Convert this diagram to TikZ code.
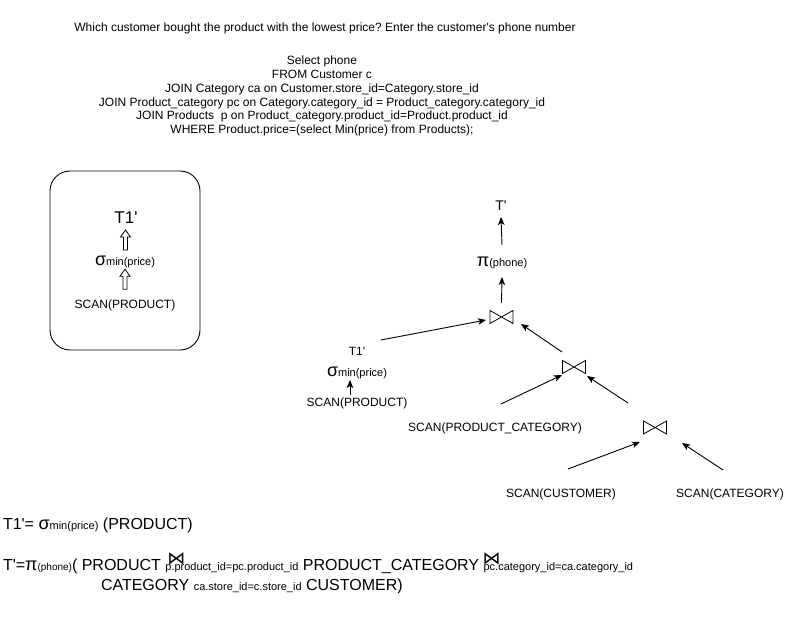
\documentclass[tikz,border=0pt]{standalone}
\usepackage{fontspec}
\setmainfont{Liberation Sans}[Ligatures=TeXOff]
\newfontfamily\dejavu{DejaVu Sans}
\usetikzlibrary{arrows.meta,calc}
\frenchspacing
\newcommand\mysig{{\fontsize{18}{18}\selectfont σ}}
\newcommand\mypi{{\fontsize{18}{18}\selectfont π}}
\newcommand\mysub[1]{{\fontsize{11}{13}\selectfont #1}}
\newcommand\mybow{{\dejavu\fontsize{18}{18}\selectfont ⋈}}
\begin{document}
\begin{tikzpicture}[x=1pt,y=-1pt,
  every node/.style={inner sep=0pt, outer sep=0pt},
  t12/.style={font=\fontsize{12}{14}\selectfont},
  arr/.style={line width=0.9pt, -{Stealth[length=8pt,width=6.5pt,inset=2pt]}},
  joinbox/.style={minimum width=23pt, minimum height=13pt},
  bow/.style={line width=0.8pt},
  pics/hup/.style={code={\draw[line width=0.8pt] (-2,10) -- (-2,-3) -- (-5,-3) -- (0,-10) -- (5,-3) -- (2,-3) -- (2,10) -- cycle;}}
]
\path[use as bounding box] (0,0) rectangle (802,639);

% header
\node[t12] (title) at (325,28) {Which customer bought the product with the lowest price? Enter the customer's phone number};
\node[align=center, font=\fontsize{12}{13.8}\selectfont] (sql) at (322,96) {Select phone\\
FROM Customer c\\
JOIN Category ca on Customer.store\_id=Category.store\_id\\
JOIN Product\_category pc on Category.category\_id = Product\_category.category\_id\\
JOIN Products~ p on Product\_category.product\_id=Product.product\_id\\
WHERE Product.price=(select Min(price) from Products);};

% rounded box
\node[draw, line width=0.9pt, rounded corners=20pt, minimum width=150pt, minimum height=179pt] (box) at (125,260.5) {};
\node[font=\fontsize{17}{20}\selectfont] (bT1) at (126,218) {T1'};
\node (bsig) at (125,262) {\mysig\mysub{min(price)}};
\node[t12] (bscan) at (125,305) {SCAN(PRODUCT)};
\pic at ($(bT1)!0.5!(bsig)$) {hup};
\pic at ($(bsig)!0.4!(bscan)$) {hup};

% tree
\node[font=\fontsize{14}{16}\selectfont] (Tp) at (501,206) {T'};
\node (pi) at (502,263) {\mypi\mysub{(phone)}};
\node[joinbox] (j1) at (501.5,317) {};
\node[t12] (t1b) at (357,351) {T1'};
\node (sigb) at (357,373) {\mysig\mysub{min(price)}};
\node[t12] (scanp) at (357,403) {SCAN(PRODUCT)};
\node[joinbox] (j2) at (574,367) {};
\node[t12] (scanpc) at (495,428) {SCAN(PRODUCT\_CATEGORY)};
\node[joinbox] (j3) at (655,427.5) {};
\node[t12] (scanc) at (561,494) {SCAN(CUSTOMER)};
\node[t12] (scancat) at (730,494) {SCAN(CATEGORY)};

\foreach \j in {j1,j2,j3}
  \draw[bow] (\j.north west) -- (\j.south east) -- (\j.north east) -- (\j.south west) -- cycle;

\draw[arr] ([yshift=18pt]pi.center) -- ([yshift=-11pt]Tp.center);
\draw[arr] ([yshift=14pt]j1.center) -- ([yshift=-14pt]pi.center);
\draw[arr] ([xshift=24pt,yshift=11pt]t1b.center) -- ([xshift=-15.5pt,yshift=-3pt]j1.center);
\draw[arr] ([xshift=-12pt,yshift=15pt]j2.center) -- ([xshift=19.5pt,yshift=-7pt]j1.center);
\draw[arr] ([xshift=6pt,yshift=24pt]scanpc.center) -- ([xshift=-12pt,yshift=-8pt]j2.center);
\draw[arr] ([xshift=-27pt,yshift=24.5pt]j3.center) -- ([xshift=13pt,yshift=-9pt]j2.center);
\draw[arr] ([xshift=7pt,yshift=25pt]scanc.center) -- ([xshift=-15pt,yshift=-14.5pt]j3.center);
\draw[arr] ([xshift=-7pt,yshift=24pt]scancat.center) -- ([xshift=27pt,yshift=-15.5pt]j3.center);
\draw[arr] ([xshift=-7pt,yshift=8pt]scanp.center) -- ([xshift=-7pt,yshift=-7pt]sigb.center);

% formulas
\node[anchor=base west] (f1) at (3,529) {\fontsize{16}{19}\selectfont T1'= \mysig\mysub{min(price)} (PRODUCT)};
\node[anchor=base west] (f2) at (3,570) {\fontsize{16}{19}\selectfont T'=\mypi{\fontsize{10}{12}\selectfont (phone)}( PRODUCT {\fontsize{11}{13}\selectfont\rlap{\hspace{2pt}\raisebox{6pt}{\mybow}}p.product\_id=pc.product\_id} PRODUCT\_CATEGORY {\fontsize{11}{13}\selectfont\rlap{\hspace{-1pt}\raisebox{6pt}{\mybow}}pc.category\_id=ca.category\_id}};
\node[anchor=base west] (f3) at (101,590) {\fontsize{16}{19}\selectfont CATEGORY {\fontsize{11}{13}\selectfont ca.store\_id=c.store\_id} CUSTOMER)};
\end{tikzpicture}
\end{document}
